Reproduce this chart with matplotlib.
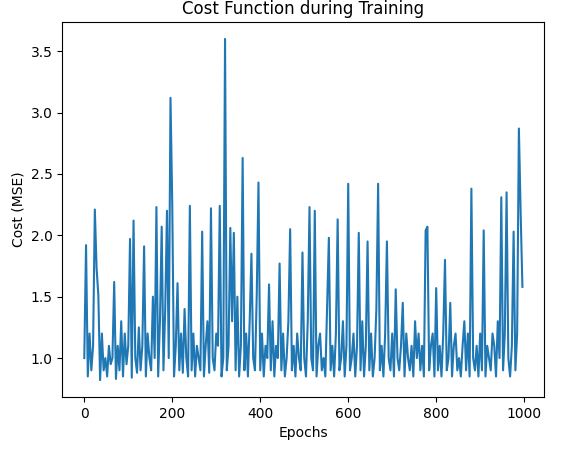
import numpy as np
import matplotlib
matplotlib.use("Agg")
import matplotlib.pyplot as plt

cost = [
1.0,1.92,0.85,1.2,0.9,1.1,2.21,1.73,1.51,0.82,1.2,0.9,1.0,0.85,1.1,0.95,1.0,1.62,0.83,1.1,0.9,1.3,0.85,1.2,0.95,
1.1,1.97,0.84,2.12,1.0,0.88,1.25,0.9,1.1,1.91,0.85,1.2,1.0,0.9,1.5,1.0,2.23,0.85,1.3,2.07,0.9,1.4,2.2,1.0,3.12,
2.25,0.85,1.1,1.61,0.9,1.2,0.88,1.4,1.0,0.85,2.24,0.9,1.2,0.85,1.1,1.0,0.9,2.03,0.85,1.1,1.3,0.88,2.22,1.0,0.9,
1.2,1.1,2.24,0.85,1.0,3.6,0.9,1.1,2.06,1.3,2.02,0.9,1.5,0.85,1.1,2.63,0.9,1.2,0.85,1.3,1.85,1.0,0.9,1.5,2.43,
0.9,1.2,0.85,1.1,1.0,1.6,0.9,1.3,0.85,1.1,1.0,1.77,0.9,1.2,0.85,1.0,1.3,2.05,0.9,1.1,0.85,1.2,1.0,0.9,1.86,
1.0,0.85,1.3,2.23,1.0,0.9,2.2,0.85,1.1,1.2,0.9,1.0,0.85,1.4,1.98,0.9,1.1,0.85,1.2,2.13,0.9,1.0,1.3,0.85,1.1,
2.42,0.9,1.0,1.2,0.85,1.1,2.02,0.9,1.3,0.85,1.1,1.95,0.9,1.2,0.85,1.0,1.4,2.42,0.9,1.1,0.85,1.2,1.95,1.0,0.9,
1.2,0.85,1.56,1.0,0.9,1.1,1.45,0.85,1.2,1.0,0.9,1.1,0.85,1.3,1.0,1.2,0.9,1.1,0.85,2.04,2.07,0.9,1.1,1.2,0.85,
1.57,0.9,1.1,0.85,1.2,1.8,0.9,1.0,1.45,0.85,1.1,1.2,0.9,1.0,0.85,1.1,1.3,0.9,1.2,0.85,2.38,1.0,0.9,1.1,0.85,
1.2,0.9,2.04,0.85,1.1,1.0,0.9,1.2,1.1,0.85,1.3,1.0,2.31,0.9,1.2,2.35,1.0,0.85,1.1,2.03,0.9,1.2,2.87,2.18,1.58,
]
epochs = np.arange(len(cost)) * 4

fig, ax = plt.subplots(figsize=(5.67, 4.55), dpi=100)
fig.subplots_adjust(left=0.11, right=0.96, top=0.952, bottom=0.127)
ax.plot(epochs, cost)
ax.set_title("Cost Function during Training")
ax.set_xlabel("Epochs")
ax.set_ylabel("Cost (MSE)")
fig.savefig("out.png", dpi=100)
